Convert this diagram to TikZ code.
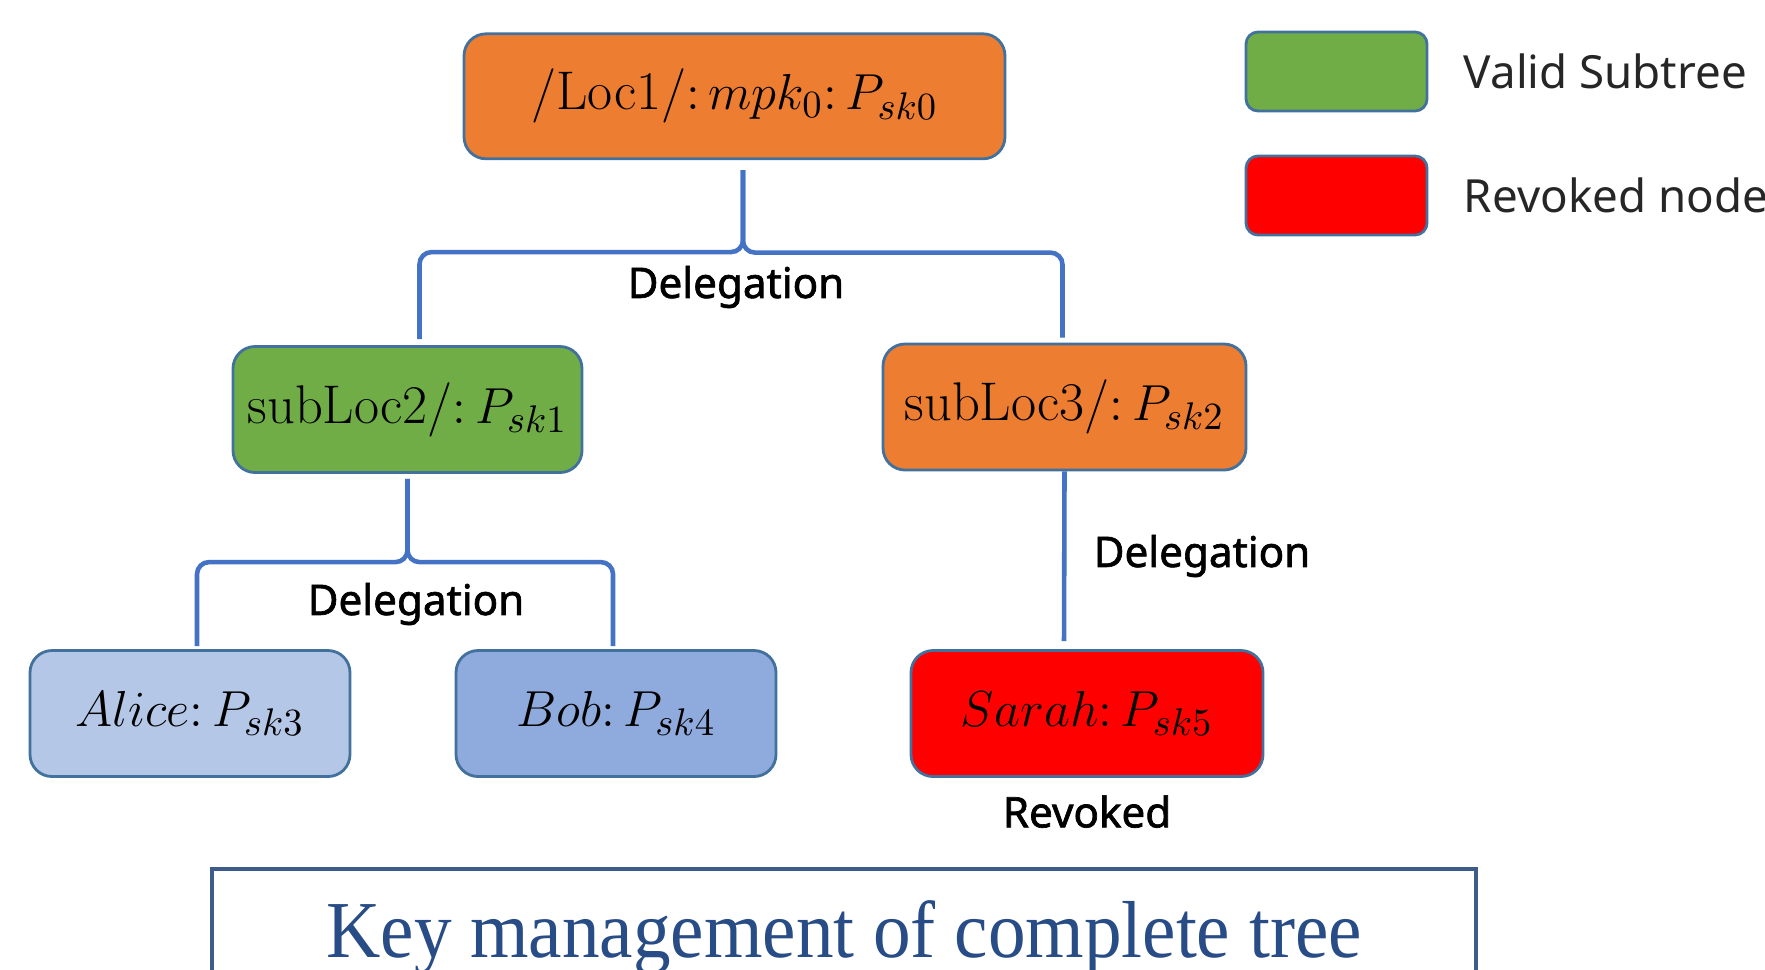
\documentclass[tikz,border=0pt]{standalone}
\usepackage{amsmath}
\usepackage{fontspec}
\usepackage{tikz}
\usetikzlibrary{positioning}

\newfontfamily\labelfont{Noto Sans}
\newfontfamily\tagfont{Noto Sans}[FakeBold=1.6]
\newfontfamily\titlefont{Liberation Serif}

\definecolor{boxorange}{HTML}{ED7D31}
\definecolor{boxgreen}{HTML}{70AD47}
\definecolor{boxred}{HTML}{FF0000}
\definecolor{alicefill}{HTML}{B4C7E7}
\definecolor{bobfill}{HTML}{8FAADC}
\definecolor{edgeblue}{HTML}{41719C}
\definecolor{linkblue}{HTML}{4472C4}
\definecolor{titleblue}{HTML}{284C86}
\definecolor{framecol}{HTML}{3E5C8A}

\begin{document}
\begin{tikzpicture}[font=\fontsize{15.5}{18}\selectfont, node distance=0.3cm]
  \tikzstyle{keybox}=[rectangle, rounded corners=0.22cm, draw=edgeblue, line width=0.8pt, inner sep=0pt, minimum height=1.26cm]
  \tikzstyle{link}=[draw=linkblue, line width=1.3pt, rounded corners=0.12cm]
  \tikzstyle{tag}=[font=\tagfont\fontsize{12}{14}\selectfont]
  \tikzstyle{legendbox}=[rectangle, rounded corners=0.12cm, draw=edgeblue, line width=0.8pt, minimum width=1.81cm, minimum height=0.79cm]
  \tikzstyle{legendtext}=[font=\labelfont\fontsize{13}{15}\selectfont, text=black!85]
  \useasboundingbox (0,0) rectangle (17.65,-9.69);

  % tree
  \node[keybox, fill=boxorange, minimum width=5.41cm, minimum height=1.25cm] (root) at (7.345,-0.963) {/Loc1/${:}\,mpk_0{:}\,P_{sk0}$};
  \node[keybox, fill=boxgreen, minimum width=3.49cm] (sub2) at (4.075,-4.095) {subLoc2/${:}\,P_{sk1}$};
  \node[keybox, fill=boxorange, minimum width=3.63cm] (sub3) at (10.645,-4.07) {subLoc3/${:}\,P_{sk2}$};
  \node[keybox, fill=alicefill, minimum width=3.20cm] (alice) at (1.90,-7.135) {$Alice{:}\,P_{sk3}$};
  \node[keybox, fill=bobfill, minimum width=3.20cm] (bob) at (6.16,-7.135) {$Bob{:}\,P_{sk4}$};
  \node[keybox, fill=boxred, minimum width=3.52cm] (sarah) at (10.87,-7.135) {$Sarah{:}\,P_{sk5}$};

  \draw[link] ([xshift=0.085cm,yshift=-0.1cm]root.south) |- ([xshift=0.12cm,yshift=0.93cm]sub2.north) -- ([xshift=0.12cm,yshift=0.06cm]sub2.north);
  \draw[link] ([xshift=0.085cm,yshift=-0.1cm]root.south) |- ([xshift=-0.02cm,yshift=0.90cm]sub3.north) -- ([xshift=-0.02cm,yshift=0.05cm]sub3.north);
  \draw[link] ([yshift=-0.05cm]sub2.south) |- ([xshift=0.07cm,yshift=0.87cm]alice.north) -- ([xshift=0.07cm,yshift=0.03cm]alice.north);
  \draw[link] ([yshift=-0.05cm]sub2.south) |- ([xshift=-0.03cm,yshift=0.87cm]bob.north) -- ([xshift=-0.03cm,yshift=0.03cm]bob.north);
  \draw[link] (sub3.south) -- ([xshift=-0.23cm,yshift=0.08cm]sarah.north);

  \node[tag] (del1) at (7.36,-2.87) {Delegation};
  \node[tag] (del2) at (4.16,-6.04) {Delegation};
  \node[tag] (del3) at (12.02,-5.56) {Delegation};
  \node[tag, below=0.05cm of sarah] (rev) {Revoked};

  % legend
  \node[legendbox, fill=boxgreen] (validbox) at (13.365,-0.715) {};
  \node[legendbox, fill=boxred] (revbox) at (13.365,-1.955) {};
  \node[legendtext, right=0.23cm of validbox] (validtxt) {Valid Subtree};
  \node[legendtext, right=0.23cm of revbox] (revtxt) {Revoked node};

  % caption
  \node[draw=framecol, line width=1.2pt, minimum width=12.64cm, minimum height=1.6cm, anchor=north] (frame) at (8.44,-8.67) {};
  \node[font=\titlefont\fontsize{23}{26}\selectfont, text=titleblue, xscale=0.93, anchor=base] (title) at (8.44,-9.57) {Key management of complete tree};
\end{tikzpicture}
\end{document}
